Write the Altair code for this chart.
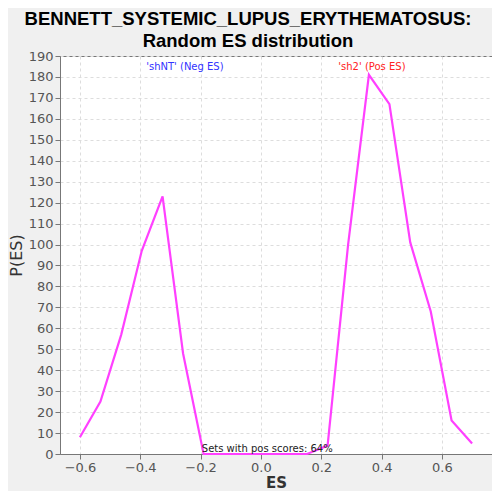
import pandas as pd
import altair as alt

# ── data ─────────────────────────────────────────────────────────────────────

es_values = [-0.600, -0.532, -0.463, -0.395, -0.326, -0.258, -0.190, -0.121,
             -0.053, 0.016, 0.084, 0.153, 0.221, 0.289, 0.358, 0.426,
             0.495, 0.563, 0.632, 0.700]
p_values = [8, 25, 57, 97, 123, 48, 0, 0, 0, 0, 0, 0, 4, 100, 181, 167,
            101, 68, 16, 5]

x_ticks = [-0.6, -0.5, -0.4, -0.3, -0.2, -0.1, 0.0, 0.1, 0.2, 0.3, 0.4, 0.5, 0.6, 0.7]
y_ticks = list(range(0, 200, 10))

title_lines = ["BENNETT_SYSTEMIC_LUPUS_ERYTHEMATOSUS:", "Random ES distribution"]
neg_label = "'shNT' (Neg ES)"
pos_label = "'sh2' (Pos ES)"
footer = "Sets with pos scores: 64%"

# ── styling ──────────────────────────────────────────────────────────────────

LINE_C = "#FF40FF"
BG = "#F0F0F0"
GRID_C = "#DDDDDD"
TICK_C = "#555555"

df = pd.DataFrame({"es": es_values, "p": p_values})

x_scale = alt.Scale(domain=[-0.666, 0.766], nice=False, zero=False)
y_scale = alt.Scale(domain=[0, 190], nice=False)

line = (
    alt.Chart(df)
    .mark_line(color=LINE_C, strokeWidth=2.2)
    .encode(
        x=alt.X("es:Q", scale=x_scale, title="ES",
                axis=alt.Axis(values=x_ticks, format=".1f", titleFontWeight="bold",
                              titleFontSize=15, titlePadding=1)),
        y=alt.Y("p:Q", scale=y_scale, title="P(ES)",
                axis=alt.Axis(values=y_ticks, titleFontWeight="normal",
                              titlePadding=4)),
    )
)

lab_df = pd.DataFrame({"txt": [neg_label, pos_label],
                       "x": [-0.252, 0.368], "c": ["#3333FF", "#FF2222"]})
labels = (
    alt.Chart(lab_df)
    .mark_text(fontSize=10, font="DejaVu Sans", baseline="middle")
    .encode(
        x=alt.X("x:Q", scale=x_scale),
        y=alt.value(11),
        text="txt:N",
        color=alt.Color("c:N", scale=None, legend=None),
    )
)

foot = (
    alt.Chart(pd.DataFrame({"txt": [footer], "x": [-0.196]}))
    .mark_text(fontSize=10, font="DejaVu Sans", align="left", baseline="bottom",
               color="#222222")
    .encode(x=alt.X("x:Q", scale=x_scale), y=alt.value(398), text="txt:N")
)

chart = (
    alt.layer(line, labels, foot)
    .properties(
        width=432, height=398,
        autosize=alt.AutoSizeParams(type="none"),
        padding={"left": 52, "top": 48, "right": 0, "bottom": 37},
        title=alt.TitleParams(title_lines, fontSize=18.5, font="Liberation Sans",
                              fontWeight="bold", color="#000000", offset=0,
                              lineHeight=22, anchor="middle", dx=-28),
        background=BG,
    )
    .configure_view(fill="white", stroke="#777777", strokeWidth=1)
    .configure_axis(
        grid=True, gridColor=GRID_C, gridDash=[3, 3],
        labelColor=TICK_C, labelFontSize=13, labelFont="DejaVu Sans",
        tickColor="#777777", domainColor="#777777",
        titleColor="#333333", titleFontSize=16, titleFont="DejaVu Sans",
    )
)

chart.save("out.html", embed_options={"renderer": "svg", "actions": False})
